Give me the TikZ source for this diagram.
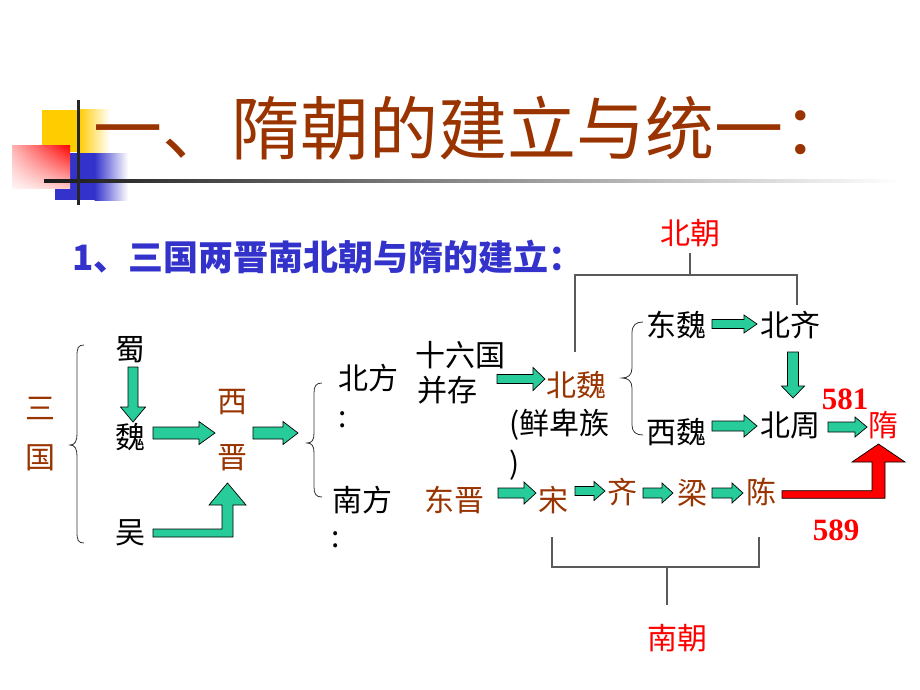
\documentclass[tikz,border=0pt]{standalone}
\usepackage{fontspec}
\setmainfont{Noto Sans CJK SC}
\newfontfamily\numfont{Liberation Serif}
\usetikzlibrary{calc,shadings}
\definecolor{dbrown}{RGB}{153,51,0}
\definecolor{ttlblue}{RGB}{51,51,204}
\definecolor{agreen}{RGB}{40,204,155}
\definecolor{myred}{RGB}{255,0,0}
\definecolor{ygold}{RGB}{255,204,0}
\definecolor{sqblue}{RGB}{51,51,204}
\definecolor{bkgrey}{RGB}{90,90,90}
\tikzset{
  txt/.style={inner sep=0pt, font=\fontsize{30}{32}\selectfont},
  brn/.style={txt, text=dbrown},
  rd/.style={txt, text=myred},
  num/.style={inner sep=0pt, text=myred, font=\numfont\bfseries\fontsize{31}{33}\selectfont},
  garrow/.style={draw=black, line width=0.7pt, fill=agreen, line join=miter},
  rarrow/.style={draw=black, line width=0.7pt, fill=myred, line join=miter},
  bracketline/.style={draw=bkgrey, line width=1.4pt},
  bracelines/.style={draw=black!80, line width=0.8pt},
}
\newcommand\blkarrow[5]{%
  \coordinate (bk-h) at ($(#2)!#5!(#1)$);
  \draw[garrow] ($(#1)!#3!90:(#2)$) -- ($(bk-h)!#3!90:(#2)$) -- ($(bk-h)!#4!90:(#2)$) -- (#2)
     -- ($(bk-h)!#4!-90:(#2)$) -- ($(bk-h)!#3!-90:(#2)$) -- ($(#1)!#3!-90:(#2)$) -- cycle;}
\begin{document}
\begin{tikzpicture}[x=1pt,y=-1pt]
\useasboundingbox (0,0) rectangle (920,690);
% ---- title decoration ----
\fill[ygold] (42,110) rectangle (79,152);
\shade[left color=ygold, right color=white] (78.5,110) rectangle (110,152);
\fill[sqblue] (55,153) rectangle (95,200);
\shade[left color=sqblue, right color=white] (94.5,153) rectangle (128,200);
\shade[upper right=myred, upper left=myred!30, lower right=myred!22, lower left=myred!4] (12,145) rectangle (70,188);
\shade[left color=black!90, middle color=black!45, right color=white] (44,179) rectangle (900,182);
\fill[black!85] (76.5,100) rectangle (79.5,205);
% ---- titles ----
\node[inner sep=0pt, anchor=west, text=dbrown, font=\fontsize{69}{72}\selectfont] (title) at (93,128) {一、隋朝的建立与统一：};
\node[inner sep=0pt, anchor=west, text=ttlblue, font=\bfseries\fontsize{35}{38}\selectfont] (sub) at (72,257) {1、三国两晋南北朝与隋的建立：};
% ---- nodes ----
\node[rd] (beichao) at (690,233) {北朝};
\node[rd] (nanchao) at (677,638) {南朝};
\node[brn] (san) at (40,408) {三};
\node[brn] (guo) at (40,458) {国};
\node[txt] (shu) at (130,350) {蜀};
\node[txt] (wei) at (130,437) {魏};
\node[txt] (wu) at (130,533) {吴};
\node[brn] (xi) at (232,402) {西};
\node[brn] (jin) at (232,458) {晋};
\node[txt] (beifang) at (368,378) {北方};
\node[txt] (colA) at (343,420) {:};
\node[txt] (nanfang) at (362,500) {南方};
\node[txt] (colB) at (336,540) {:};
\node[txt] (shiliu) at (460,355) {十六国};
\node[txt] (bingcun) at (447,390) {并存};
\node[brn] (beiwei) at (576,385) {北魏};
\node[txt, anchor=west] (xianbei) at (509,425) {(鲜卑族};
\node[txt, anchor=west] (paren) at (509,465) {)};
\node[brn] (dongjin) at (454,500) {东晋};
\node[brn] (song) at (553,500) {宋};
\node[brn] (qi) at (622,492) {齐};
\node[brn] (liang) at (692,493) {梁};
\node[brn] (chen) at (761,492) {陈};
\node[txt] (dongwei) at (676,325) {东魏};
\node[txt] (beiqi) at (790,325) {北齐};
\node[txt] (xiwei) at (676,432) {西魏};
\node[txt] (beizhou) at (790,425) {北周};
\node[rd] (sui) at (883,425) {隋};
\node[num] (n581) at (845,399) {581};
\node[num] (n589) at (836,530) {589};
% ---- braces ----
\draw[bracelines] (84,345) .. controls (78,345) and (77,348) .. (77,356) -- (77,434)
   .. controls (77,441) and (75,445) .. (70,445) .. controls (75,445) and (77,449) .. (77,456)
   -- (77,532) .. controls (77,540) and (78,543) .. (84,543);
\coordinate (b2) at (307,443);
\draw[bracelines] (322,383) .. controls (316,383) and (314,386) .. (314,393) -- (314,433)
   .. controls (314,440) and (312,443) .. (307,443) .. controls (312,443) and (314,446) .. (314,453)
   -- (314,487) .. controls (314,494) and (316,497) .. (322,497);
\draw[bracelines] (643,322) .. controls (636,322) and (632,325) .. (632,333) -- (632,368)
   .. controls (632,375) and (628,378) .. (622,378) .. controls (628,378) and (632,381) .. (632,388)
   -- (632,425) .. controls (632,432) and (636,435) .. (643,435);
% ---- brackets ----
\coordinate (nbL) at (575,352);
\coordinate (nbR) at (797,305);
\draw[bracketline] ($(beichao)+(0,20)$) -- ($(beichao)+(0,42)$);
\draw[bracketline] (nbL) |- (575,275) -- (797,275) -- (nbR);
\coordinate (sbL) at (552,537);
\coordinate (sbR) at (759,537);
\draw[bracketline] (sbL) -- (552,567) -- (759,567) -- (sbR);
\draw[bracketline] (667,567) -- ($(nanchao)+(-10,-33)$);
% ---- straight green arrows ----
\coordinate (a1s) at ($(shu)+(3,17)$);    \coordinate (a1e) at ($(wei)+(3,-15)$);
\blkarrow{a1s}{a1e}{5pt}{12.5pt}{15pt}
\coordinate (a2s) at ($(wei)+(23,-4)$);   \coordinate (a2e) at ($(xi)!.5!(jin)+(-17,3)$);
\blkarrow{a2s}{a2e}{6pt}{11.5pt}{16pt}
\coordinate (a3s) at ($(xi)!.5!(jin)+(21,3)$); \coordinate (a3e) at ($(b2)+(-9,-10)$);
\blkarrow{a3s}{a3e}{6pt}{11.5pt}{15pt}
\coordinate (a4s) at ($(bingcun)+(50,-11)$); \coordinate (a4e) at ($(beiwei)+(-31,-6)$);
\blkarrow{a4s}{a4e}{4.5pt}{11.5pt}{12pt}
\coordinate (a5s) at ($(dongjin)+(44,-7)$); \coordinate (a5e) at ($(song)+(-17,-7)$);
\blkarrow{a5s}{a5e}{5pt}{11pt}{12pt}
\coordinate (a6s) at ($(song)+(22,-9)$);  \coordinate (a6e) at ($(qi)+(-17,-1)$);
\blkarrow{a6s}{a6e}{4.5pt}{9.5pt}{11pt}
\coordinate (a7s) at ($(qi)+(21,1)$);     \coordinate (a7e) at ($(liang)+(-19,0)$);
\blkarrow{a7s}{a7e}{5pt}{10pt}{11pt}
\coordinate (a8s) at ($(liang)+(20,0)$);  \coordinate (a8e) at ($(chen)+(-18,1)$);
\blkarrow{a8s}{a8e}{5pt}{10pt}{11pt}
\coordinate (a9s) at ($(dongwei)+(36,-1)$); \coordinate (a9e) at ($(beiqi)+(-33,-1)$);
\blkarrow{a9s}{a9e}{4.5pt}{9pt}{13pt}
\coordinate (a10s) at ($(beiqi)+(3,27)$); \coordinate (a10e) at ($(beizhou)+(3,-27)$);
\blkarrow{a10s}{a10e}{5.5pt}{11.5pt}{12pt}
\coordinate (a11s) at ($(xiwei)+(36,-6)$); \coordinate (a11e) at ($(beizhou)+(-33,1)$);
\blkarrow{a11s}{a11e}{5pt}{11pt}{13pt}
\coordinate (a12s) at ($(beizhou)+(38,2)$); \coordinate (a12e) at ($(sui)+(-16,2)$);
\blkarrow{a12s}{a12e}{5pt}{10pt}{12pt}
% ---- bent arrows ----
\coordinate (wa) at ($(wu)+(23,0)$);
\coordinate (wt) at ($(jin)+(-4.5,25)$);
\draw[garrow] ($(wa)+(0,-4)$) -- ($(wt |- wa)+(-5.5,-4)$) -- ($(wt)+(-5.5,22)$) -- ($(wt)+(-18.5,22)$)
  -- (wt) -- ($(wt)+(18.5,22)$) -- ($(wt)+(5.5,22)$) -- ($(wt |- wa)+(5.5,4)$) -- ($(wa)+(0,4)$) -- cycle;
\coordinate (ca) at ($(chen)+(21,2.5)$);
\coordinate (st) at ($(sui)+(-4.5,19)$);
\draw[rarrow] ($(ca)+(0,-3.8)$) -- ($(st |- ca)+(-6.5,-3.8)$) -- ($(st)+(-6.5,18)$) -- ($(st)+(-26.5,18)$)
  -- (st) -- ($(st)+(26.5,18)$) -- ($(st)+(6.5,18)$) -- ($(st |- ca)+(6.5,3.8)$) -- ($(ca)+(0,3.8)$) -- cycle;
\end{tikzpicture}
\end{document}
